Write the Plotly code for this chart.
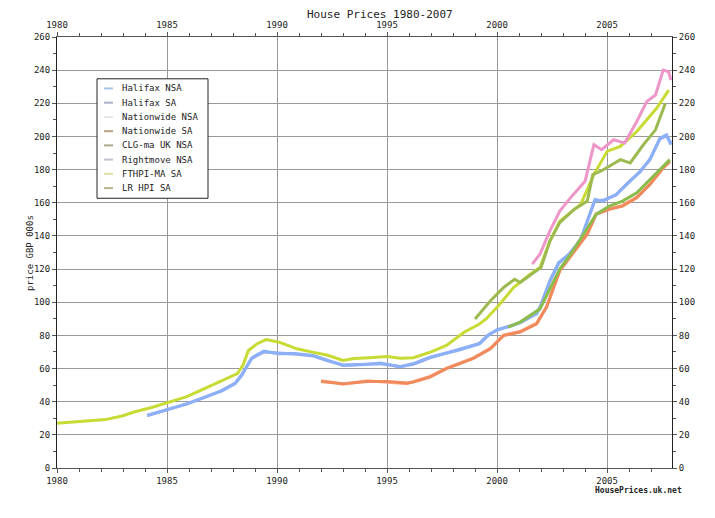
import plotly.graph_objects as go

# series (decimal year, price in GBP 000s)
fthpi_x = [1980.0, 1981.0, 1982.2, 1983.0, 1983.5, 1984.3, 1985.0, 1985.9, 1986.7, 1987.5,
           1988.2, 1988.45, 1988.7, 1989.1, 1989.5, 1990.1, 1990.9, 1991.6, 1992.3, 1993.0,
           1993.5, 1994.2, 1995.0, 1995.6, 1996.2, 1997.0, 1997.7, 1998.5, 1999.2, 1999.5,
           2000.0, 2000.75, 2001.5, 2001.95, 2002.4, 2002.85, 2003.8, 2004.4, 2005.0, 2005.6,
           2006.35, 2007.25, 2007.8]
fthpi_y = [27.0, 28.2, 29.2, 31.5, 33.8, 36.5, 39.2, 43.0, 47.9, 52.5,
           56.9, 62.0, 70.9, 75.0, 77.5, 75.9, 71.9, 69.9, 68.0, 64.9,
           66.0, 66.5, 67.3, 66.2, 66.5, 70.0, 73.9, 81.9, 86.9, 89.9,
           96.9, 108.9, 116.9, 120.9, 136.9, 148.9, 159.0, 177.0, 191.0, 194.0,
           203.0, 217.0, 228.0]

halifax_x = [1984.1, 1985.0, 1985.9, 1986.7, 1987.5, 1988.1, 1988.4, 1988.85, 1989.4, 1990.05,
             1990.8, 1991.65, 1992.3, 1993.0, 1994.0, 1994.7, 1995.6, 1996.2, 1996.95, 1998.2,
             1999.2, 1999.6, 2000.0, 2000.7, 2001.05, 2001.8, 2001.95, 2002.4, 2002.8, 2003.3,
             2003.8, 2004.2, 2004.45, 2004.8, 2005.4, 2006.05, 2006.5, 2006.95, 2007.4, 2007.7,
             2007.9]
halifax_nsa = [31.8, 35.2, 38.5, 42.8, 46.5, 50.9, 55.9, 66.5, 70.5, 68.9,
               69.0, 67.9, 65.0, 61.9, 62.5, 63.3, 60.9, 63.0, 66.9, 70.9,
               74.9, 80.0, 83.5, 85.9, 88.0, 92.9, 97.0, 113.0, 124.0, 129.0,
               138.0, 153.0, 162.0, 161.0, 165.0, 173.0, 179.0, 186.0, 199.0, 201.0,
               195.0]
halifax_sa = [31.5, 35.0, 38.8, 42.5, 46.8, 51.2, 56.5, 66.0, 70.0, 69.3,
              68.7, 67.5, 64.6, 62.2, 62.8, 62.9, 61.3, 62.6, 66.5, 71.3,
              75.2, 80.4, 83.1, 86.2, 87.6, 93.3, 96.6, 112.4, 123.5, 129.5,
              137.5, 152.4, 161.4, 161.5, 164.6, 173.4, 178.6, 186.4, 198.4, 200.5,
              196.0]

nation_x = [1992.0, 1992.5, 1993.0, 1994.1, 1995.0, 1995.9, 1996.2, 1996.95, 1997.7, 1998.9,
            1999.7, 2000.3, 2001.05, 2001.8, 2002.25, 2002.85, 2003.4, 2004.1, 2004.5, 2005.1,
            2005.7, 2006.35, 2006.95, 2007.55, 2007.85]
nation_nsa = [52.6, 51.8, 50.5, 52.6, 51.8, 50.9, 52.2, 55.3, 60.3, 66.3,
              72.3, 80.3, 82.4, 87.4, 97.4, 119.4, 129.4, 141.4, 153.4, 156.4,
              158.4, 163.4, 171.4, 181.4, 184.6]
nation_sa = [52.2, 51.5, 50.9, 52.2, 52.2, 51.3, 51.8, 54.9, 59.9, 65.9,
             71.9, 79.9, 82.0, 87.0, 97.0, 119.0, 129.0, 141.0, 153.0, 156.0,
             158.0, 163.0, 171.0, 181.0, 185.0]

clg_x = [1999.0, 1999.7, 2000.3, 2000.8, 2001.05, 2001.8, 2002.0, 2002.4, 2002.85, 2003.5,
         2004.1, 2004.35, 2004.7, 2005.1, 2005.6, 2006.05, 2006.65, 2007.2, 2007.65]
clg_y = [89.9, 100.9, 108.9, 113.9, 111.9, 118.9, 121.0, 136.9, 148.0, 156.0,
         161.0, 177.0, 179.0, 182.0, 186.0, 184.0, 195.0, 204.0, 220.0]

rightmove_x = [2001.6, 2001.95, 2002.4, 2002.85, 2003.4, 2004.0, 2004.4, 2004.75, 2005.3, 2005.8,
               2006.35, 2006.8, 2007.2, 2007.55, 2007.8, 2007.9]
rightmove_y = [123.0, 129.0, 143.0, 155.0, 164.0, 173.0, 195.0, 192.0, 198.0, 196.0,
               209.0, 221.0, 225.0, 240.0, 239.0, 234.0]

lr_x = [2000.5, 2001.05, 2001.95, 2002.4, 2002.85, 2003.4, 2004.1, 2004.5, 2005.1, 2005.7,
        2006.35, 2006.95, 2007.55, 2007.85]
lr_y = [85.0, 88.0, 96.0, 108.0, 120.0, 130.0, 145.0, 153.0, 158.0, 161.0,
        166.0, 174.0, 182.0, 186.0]

legend_names = ['Halifax NSA', 'Halifax SA', 'Nationwide NSA', 'Nationwide SA',
                'CLG-ma UK NSA', 'Rightmove NSA', 'FTHPI-MA SA', 'LR HPI SA']
legend_colors = ['#a9c4e4', '#a9b0c6', '#e6e6e6', '#b9a27e',
                 '#b0a68a', '#c2c2cc', '#e4dea6', '#b6b48c']

FONT = 'DejaVu Sans Mono'

# plot box in page pixels (page has an 8px body offset)
PX0, PX1, PY0, PY1 = 57, 672, 35, 468


def px(x):
    return (x - PX0) / (PX1 - PX0)


def py(y):
    return (PY1 - y) / (PY1 - PY0)


fig = go.Figure()

series = [
    (fthpi_x, fthpi_y, '#c8da34'),
    (halifax_x, halifax_sa, '#9aaaf0'),
    (halifax_x, halifax_nsa, '#8cb0f8'),
    (nation_x, nation_nsa, '#ffb08e'),
    (nation_x, nation_sa, '#f08a5c'),
    (lr_x, lr_y, '#8cbc4c'),
    (clg_x, clg_y, '#9cba50'),
    (rightmove_x, rightmove_y, '#ee96c8'),
]
for xs, ys, col in series:
    fig.add_trace(go.Scatter(x=xs, y=ys, mode='lines', showlegend=False,
                             line=dict(color=col, width=3), hoverinfo='skip'))

# invisible trace to carry the top/right axes
fig.add_trace(go.Scatter(x=[1980], y=[0], xaxis='x2', yaxis='y2', mode='markers',
                         marker=dict(opacity=0), showlegend=False, hoverinfo='skip'))

xr = [1980, 2007.95]
yr = [0, 260]
axfont = dict(family=FONT, size=9, color='#222')

common_x = dict(range=xr, tick0=1980, dtick=5, ticks='outside', ticklen=4,
                tickcolor='#555', tickfont=axfont, showline=True, linecolor='#555',
                minor=dict(dtick=1, ticks='outside', ticklen=3, tickcolor='#555', showgrid=False),
                zeroline=False)
common_y = dict(range=yr, tick0=0, dtick=20, ticks='outside', ticklen=4,
                tickcolor='#555', tickfont=axfont, showline=True, linecolor='#222',
                minor=dict(dtick=10, ticks='outside', ticklen=3, tickcolor='#555', showgrid=False),
                zeroline=False)

# hand-drawn legend box, like the original
shapes = [dict(type='rect', xref='paper', yref='paper', x0=px(97), x1=px(208),
               y0=py(197), y1=py(77), line=dict(color='#222', width=1),
               fillcolor='white', layer='above')]
annotations = []
for i, (name, col) in enumerate(zip(legend_names, legend_colors)):
    yy = py(86.7 + i * 14.3)
    shapes.append(dict(type='line', xref='paper', yref='paper', x0=px(104), x1=px(113),
                       y0=yy, y1=yy, line=dict(color=col, width=2), layer='above'))
    annotations.append(dict(text=name, xref='paper', yref='paper', x=px(120), y=yy,
                            xanchor='left', yanchor='middle', showarrow=False,
                            font=dict(family=FONT, size=9, color='#222')))

annotations.append(dict(text='price GBP 000s', xref='paper', yref='paper', x=px(30), y=py(252),
                        xanchor='center', yanchor='middle', textangle=-90, showarrow=False,
                        font=dict(family=FONT, size=9, color='#222')))
annotations.append(dict(text='<b>HousePrices.uk.net</b>', xref='paper', yref='paper',
                        x=px(684), y=py(490), xanchor='right', yanchor='middle', showarrow=False,
                        font=dict(family=FONT, size=8, color='#222')))

fig.update_layout(
    width=715, height=518,
    margin=dict(l=PX0 - 8, r=715 - PX1 + 8, t=PY0 - 8, b=518 - PY1 + 8),
    paper_bgcolor='white', plot_bgcolor='white',
    font=dict(family=FONT, size=9, color='#222'),
    title=dict(text='House Prices 1980-2007', x=0.52, xanchor='center', y=1.0, yanchor='top',
               pad=dict(t=2), font=dict(family=FONT, size=11, color='#222')),
    xaxis=dict(common_x, showgrid=True, gridcolor='#999', gridwidth=1),
    yaxis=dict(common_y, showgrid=True, gridcolor='#999', gridwidth=1),
    xaxis2=dict(common_x, overlaying='x', side='top', showgrid=False, anchor='y2',
                ticklabelstandoff=0),
    yaxis2=dict(common_y, overlaying='y', side='right', showgrid=False, anchor='x2'),
    shapes=shapes,
    annotations=annotations,
    showlegend=False,
)

fig.write_html('out.html')
